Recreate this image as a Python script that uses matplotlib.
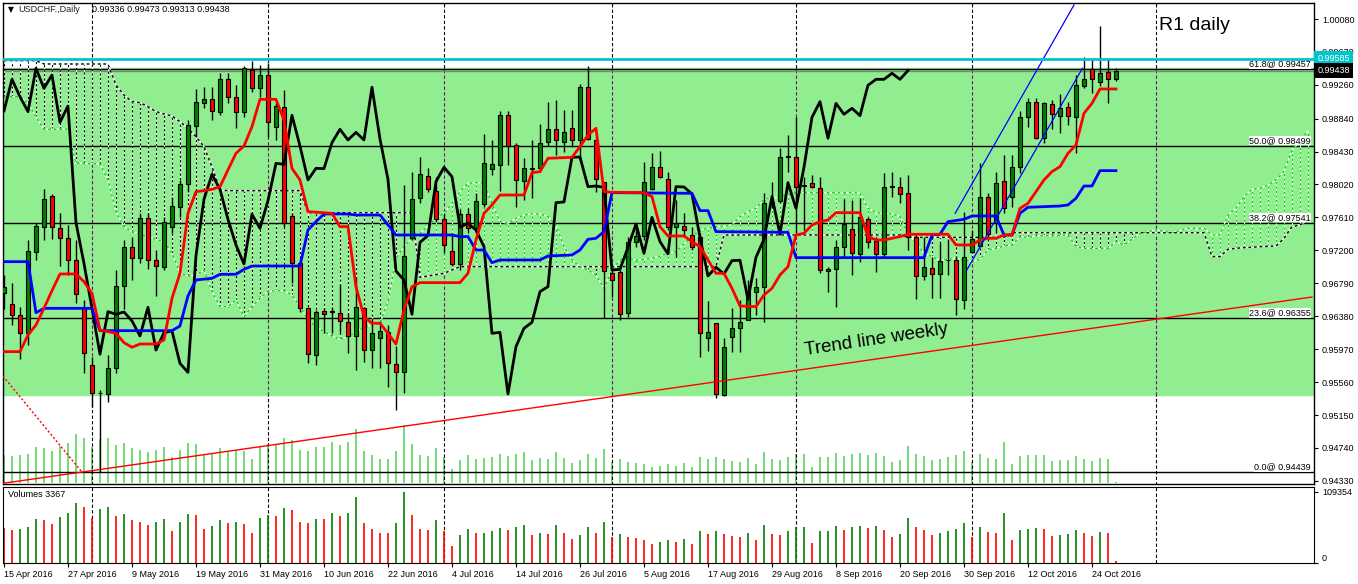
import numpy as np
import pandas as pd
import matplotlib
matplotlib.use("Agg")
import matplotlib.pyplot as plt
import matplotlib.transforms as mtransforms

plt.rcParams['font.family'] = ['Liberation Sans', 'DejaVu Sans']

# USDCHF daily candles, bar 0 = 15 Apr 2016
opens = [0.96665, 0.96528, 0.96391, 0.96167, 0.97175, 0.97487, 0.97877, 0.97474, 0.97350, 0.97080,
         0.96478, 0.95773, 0.95420, 0.95412, 0.95731, 0.96760, 0.97238, 0.97101, 0.97599, 0.97080,
         0.96989, 0.97487, 0.97736, 0.98022, 0.98748, 0.99030, 0.99080, 0.98927, 0.99329, 0.99105,
         0.98927, 0.99445, 0.99217, 0.99383, 0.98732, 0.98981, 0.97632, 0.97038, 0.96478, 0.95893,
         0.96449, 0.96441, 0.96424, 0.96312, 0.96134, 0.96478, 0.95959, 0.96105, 0.96188, 0.95785,
         0.95681, 0.97350, 0.97848, 0.98130, 0.97943, 0.97586, 0.97192, 0.97030, 0.97649, 0.97474,
         0.97777, 0.98209, 0.98259, 0.98881, 0.98508, 0.98064, 0.98225, 0.98230, 0.98549, 0.98715,
         0.98553, 0.98728, 0.98574, 0.99230, 0.98574, 0.98055, 0.96914, 0.96926, 0.96416, 0.97300,
         0.97383, 0.97960, 0.98234, 0.98084, 0.97487, 0.97507, 0.97391, 0.97362, 0.96105, 0.96300,
         0.95399, 0.96125, 0.96229, 0.96333, 0.96677, 0.96740, 0.97785, 0.97810, 0.98371, 0.98366,
         0.98010, 0.98034, 0.97972, 0.96947, 0.96964, 0.97238, 0.97462, 0.97155, 0.97586, 0.97317,
         0.97155, 0.97997, 0.97993, 0.97910, 0.97362, 0.96881, 0.96976, 0.96902, 0.97084, 0.97080,
         0.96582, 0.97184, 0.97258, 0.97869, 0.97545, 0.98068, 0.97869, 0.98242, 0.98864, 0.99043,
         0.98595, 0.99018, 0.98873, 0.98981, 0.98864, 0.99246, 0.99454, 0.99300, 0.99416, 0.99336]
highs = [0.96893, 0.96789, 0.96499, 0.97329, 0.97545, 0.97964, 0.97902, 0.97661, 0.97516, 0.97329,
         0.96582, 0.95876, 0.95461, 0.95897, 0.96955, 0.97329, 0.97370, 0.97661, 0.97661, 0.97204,
         0.97619, 0.97869, 0.98076, 0.98823, 0.99205, 0.99238, 0.99238, 0.99404, 0.99404, 0.99259,
         0.99495, 0.99562, 0.99508, 0.99537, 0.99030, 0.99196, 0.97661, 0.97080, 0.96499, 0.96457,
         0.96478, 0.96499, 0.96769, 0.96416, 0.96872, 0.96499, 0.96333, 0.96325, 0.96271, 0.96009,
         0.98014, 0.98180, 0.98366, 0.98221, 0.98117, 0.97661, 0.97412, 0.97711, 0.97723, 0.97910,
         0.98649, 0.98574, 0.98939, 0.98939, 0.98532, 0.98346, 0.98574, 0.98773, 0.99051, 0.99072,
         0.98947, 0.98947, 0.99271, 0.99495, 0.98582, 0.98055, 0.96955, 0.96955, 0.97370, 0.97536,
         0.98304, 0.98408, 0.98437, 0.98180, 0.97827, 0.97661, 0.97495, 0.97412, 0.96574, 0.96300,
         0.96105, 0.96478, 0.96582, 0.96831, 0.96852, 0.97918, 0.98055, 0.98470, 0.98636, 0.98864,
         0.98117, 0.98138, 0.98117, 0.96997, 0.97329, 0.97835, 0.97827, 0.97848, 0.97619, 0.97370,
         0.98167, 0.98180, 0.98117, 0.98138, 0.97412, 0.97362, 0.97121, 0.97296, 0.97329, 0.97121,
         0.97682, 0.97453, 0.98283, 0.97910, 0.98180, 0.98387, 0.98387, 0.98935, 0.99093, 0.99093,
         0.99051, 0.99072, 0.99147, 0.99051, 0.99383, 0.99611, 0.99570, 0.99993, 0.99578, 0.99473]
lows = [0.96466, 0.96267, 0.95843, 0.96022, 0.97080, 0.97329, 0.97341, 0.97005, 0.96893, 0.96540,
        0.95669, 0.95254, 0.94439, 0.95316, 0.95669, 0.96466, 0.96831, 0.97038, 0.96964, 0.96632,
        0.96955, 0.97412, 0.97619, 0.97931, 0.98615, 0.98968, 0.98823, 0.98885, 0.99030, 0.98719,
        0.98864, 0.99176, 0.99113, 0.98615, 0.98574, 0.97495, 0.96789, 0.96437, 0.95802, 0.95773,
        0.96167, 0.96167, 0.96167, 0.95918, 0.95710, 0.95814, 0.95731, 0.95731, 0.95503, 0.95212,
        0.95420, 0.97329, 0.97785, 0.97931, 0.97557, 0.97163, 0.97005, 0.96955, 0.97412, 0.97412,
        0.97744, 0.98138, 0.97943, 0.98263, 0.97744, 0.97827, 0.97848, 0.98180, 0.98499, 0.98387,
        0.98429, 0.98491, 0.98325, 0.98574, 0.97931, 0.96362, 0.96623, 0.96333, 0.96374, 0.97238,
        0.97329, 0.97951, 0.98097, 0.97453, 0.97121, 0.97370, 0.97204, 0.95876, 0.95951, 0.95358,
        0.95387, 0.95939, 0.95939, 0.96333, 0.96395, 0.96312, 0.97723, 0.97785, 0.98180, 0.97412,
        0.97453, 0.97972, 0.96914, 0.96686, 0.96499, 0.97101, 0.96893, 0.97059, 0.97225, 0.96935,
        0.97101, 0.97869, 0.97785, 0.97204, 0.96590, 0.96831, 0.96603, 0.96603, 0.96893, 0.96395,
        0.96466, 0.97163, 0.97246, 0.97350, 0.97412, 0.97669, 0.97744, 0.98159, 0.98732, 0.98582,
        0.98541, 0.98707, 0.98657, 0.98761, 0.98416, 0.99217, 0.99155, 0.99246, 0.99030, 0.99313]
closes = [0.96740, 0.96391, 0.96167, 0.97192, 0.97503, 0.97835, 0.97487, 0.97350, 0.97080, 0.96653,
          0.95918, 0.95420, 0.95428, 0.95731, 0.96760, 0.97238, 0.97101, 0.97599, 0.97080, 0.97009,
          0.97549, 0.97752, 0.98022, 0.98757, 0.99043, 0.99080, 0.98935, 0.99329, 0.99113, 0.98927,
          0.99466, 0.99217, 0.99383, 0.98794, 0.98997, 0.97545, 0.97038, 0.96478, 0.95906, 0.96437,
          0.96404, 0.96433, 0.96321, 0.96134, 0.96491, 0.95959, 0.96175, 0.96196, 0.95793, 0.95681,
          0.97134, 0.97835, 0.98147, 0.97960, 0.97586, 0.97267, 0.97030, 0.97649, 0.97474, 0.97819,
          0.98283, 0.98271, 0.98881, 0.98499, 0.98076, 0.98221, 0.98217, 0.98541, 0.98707, 0.98574,
          0.98669, 0.98574, 0.99230, 0.98586, 0.98084, 0.96943, 0.96831, 0.96404, 0.97300, 0.97383,
          0.98055, 0.98234, 0.98117, 0.97487, 0.97536, 0.97453, 0.97246, 0.96167, 0.96179, 0.95412,
          0.96001, 0.96229, 0.96304, 0.96686, 0.96748, 0.97794, 0.97802, 0.98358, 0.98362, 0.97993,
          0.98001, 0.97985, 0.96955, 0.96964, 0.97238, 0.97528, 0.97163, 0.97611, 0.97309, 0.97155,
          0.97993, 0.97989, 0.97902, 0.97362, 0.96881, 0.96989, 0.96906, 0.97072, 0.97076, 0.96590,
          0.97113, 0.97337, 0.97869, 0.97400, 0.98043, 0.97723, 0.98234, 0.98856, 0.99051, 0.98595,
          0.99030, 0.98894, 0.98968, 0.98877, 0.99255, 0.99329, 0.99329, 0.99404, 0.99329, 0.99438]
volumes = [53400, 50800, 52400, 55900, 67800, 66200, 60100, 70400, 76500, 91900,
           85800, 68800, 83200, 85800, 72400, 75500, 66200, 63100, 58500, 63100,
           67800, 49300, 63100, 75500, 73400, 52400, 57000, 66200, 61600, 63100,
           60100, 46200, 69300, 73900, 72400, 84200, 81600, 63100, 61600, 67800,
           67500, 77000, 72400, 77000, 101200, 61600, 52400, 46200, 46000, 61600,
           109354, 73900, 52400, 50800, 66200, 49800, 26200, 43400, 52800, 46500,
           46900, 49800, 54400, 51300, 55900, 59000, 43600, 46700, 45100, 59000,
           46700, 37400, 43600, 55900, 46700, 63600, 40000, 45100, 40500, 39000,
           35900, 29700, 32800, 35900, 32800, 37400, 29700, 49800, 45100, 49800,
           45100, 42000, 40500, 46700, 35900, 59000, 45100, 43600, 49800, 55400,
           55600, 30800, 49300, 49500, 57000, 50800, 55400, 57000, 53900, 57000,
           50800, 40000, 44700, 69300, 55400, 50800, 43100, 46200, 49300, 52400,
           61600, 40000, 55400, 47700, 46200, 77000, 35400, 50800, 52400, 53900,
           52400, 41600, 43100, 44700, 50800, 46200, 41600, 47700, 46200, 3367]

# Ichimoku lines (vertices: bar index, price)
tenkan_x = [0, 2, 3, 4, 5, 6, 7, 9, 10, 11, 12, 13, 14, 15, 16, 17, 19, 20, 21, 22, 23, 24, 25, 26, 27,
            28, 29, 30, 31, 32, 34, 35, 36, 37, 38, 41, 42, 43, 44, 45, 46, 47, 48, 49, 50, 51, 52, 57,
            58, 59, 60, 61, 62, 65, 66, 67, 68, 71, 72, 73, 74, 75, 76, 80, 81, 82, 83, 85, 86, 87, 88,
            89, 90, 91, 92, 94, 95, 96, 97, 98, 99, 100, 101, 102, 103, 104, 107, 108, 109, 110, 112,
            113, 118, 119, 121, 122, 123, 124, 125, 126, 127, 128, 129, 130, 131, 132, 133, 134, 135,
            136, 137, 139]
tenkan_y = [0.95939, 0.95939, 0.96146, 0.96271, 0.96478, 0.96698, 0.96906, 0.96906, 0.96810, 0.96665,
            0.96209, 0.96188, 0.96167, 0.96051, 0.95993, 0.96034, 0.96034, 0.96084, 0.96603, 0.96914,
            0.97661, 0.97931, 0.97943, 0.97960, 0.97993, 0.98201, 0.98408, 0.98499, 0.98740, 0.99080,
            0.99080, 0.98823, 0.98221, 0.98076, 0.97682, 0.97661, 0.97495, 0.97495, 0.96748, 0.96375,
            0.96292, 0.96292, 0.96167, 0.96034, 0.96458, 0.96748, 0.96798, 0.96798, 0.96914, 0.97329,
            0.97661, 0.97765, 0.97889, 0.97889, 0.98167, 0.98180, 0.98346, 0.98358, 0.98491, 0.98636,
            0.98719, 0.97931, 0.97923, 0.97918, 0.97869, 0.97495, 0.97379, 0.97379, 0.97308, 0.97246,
            0.97080, 0.96914, 0.96914, 0.96727, 0.96507, 0.96499, 0.96644, 0.96727, 0.96893, 0.96997,
            0.97391, 0.97412, 0.97516, 0.97557, 0.97578, 0.97669, 0.97669, 0.97371, 0.97329, 0.97329,
            0.97371, 0.97400, 0.97400, 0.97267, 0.97267, 0.97329, 0.97350, 0.97350, 0.97391, 0.97391,
            0.97723, 0.97785, 0.97931, 0.98076, 0.98180, 0.98242, 0.98408, 0.98512, 0.98906, 0.99030,
            0.99209, 0.99209]
kijun_x = [0, 3, 4, 5, 11, 12, 21, 22, 23, 24, 26, 27, 29, 30, 31, 37, 38, 39, 40, 43, 44, 47, 48, 49,
           56, 57, 58, 59, 60, 61, 62, 67, 68, 71, 72, 73, 74, 75, 76, 86, 87, 88, 89, 98, 99, 115,
           116, 117, 118, 120, 121, 124, 125, 126, 127, 128, 132, 133, 134, 135, 136, 137, 139]
kijun_y = [0.97059, 0.97059, 0.96424, 0.96478, 0.96478, 0.96200, 0.96200, 0.96258, 0.96632, 0.96831,
           0.96852, 0.96902, 0.96902, 0.96964, 0.97005, 0.97005, 0.97454, 0.97557, 0.97653, 0.97653,
           0.97640, 0.97640, 0.97516, 0.97391, 0.97391, 0.97371, 0.97371, 0.97204, 0.97204, 0.97047,
           0.97080, 0.97080, 0.97130, 0.97142, 0.97204, 0.97337, 0.97350, 0.97433, 0.97918, 0.97910,
           0.97694, 0.97694, 0.97433, 0.97424, 0.97109, 0.97109, 0.97391, 0.97400, 0.97557, 0.97586,
           0.97628, 0.97628, 0.97391, 0.97391, 0.97661, 0.97736, 0.97752, 0.97765, 0.97848, 0.98001,
           0.98001, 0.98192, 0.98192]
chikou_shift = 26

# cloud spans, one value per bar (bars 0..163, incl. the part projected ahead)
span_a = [0.99113, 0.99113, 0.99113, 0.99030, 0.98864, 0.98707, 0.98707, 0.98707, 0.98707, 0.98283,
          0.98283, 0.98279, 0.98275, 0.98076, 0.97682, 0.97495, 0.97433, 0.97400, 0.97371, 0.97337,
          0.97308, 0.97163, 0.96914, 0.96881, 0.96893, 0.96955, 0.96686, 0.96499, 0.96499, 0.96582,
          0.96375, 0.96499, 0.96603, 0.96686, 0.96698, 0.96698, 0.96644, 0.96499, 0.96333, 0.96250,
          0.96188, 0.96134, 0.96092, 0.96126, 0.96188, 0.96242, 0.96271, 0.96292, 0.96561, 0.97101,
          0.97246, 0.97350, 0.97412, 0.97503, 0.97599, 0.97661, 0.97785, 0.97931, 0.98035, 0.98043,
          0.98035, 0.97785, 0.97557, 0.97537, 0.97599, 0.97640, 0.97653, 0.97653, 0.97620, 0.97516,
          0.97246, 0.97080, 0.96997, 0.96955, 0.96893, 0.96727, 0.96955, 0.97080, 0.97101, 0.97080,
          0.97088, 0.97101, 0.97130, 0.97163, 0.97184, 0.97279, 0.97371, 0.97454, 0.97474, 0.97495,
          0.97503, 0.97516, 0.97620, 0.97682, 0.97723, 0.97835, 0.97852, 0.97869, 0.97893, 0.97918,
          0.97918, 0.97918, 0.97918, 0.97918, 0.97918, 0.97918, 0.97918,
          0.97910, 0.97723, 0.97669, 0.97661, 0.97653, 0.97620, 0.97412, 0.97288, 0.97163, 0.97122,
          0.97072, 0.97088, 0.97101, 0.97080, 0.97059, 0.97088, 0.97204, 0.97225, 0.97254, 0.97267,
          0.97371, 0.97362, 0.97379, 0.97383, 0.97383, 0.97387, 0.97391, 0.97246, 0.97225, 0.97225,
          0.97225, 0.97225, 0.97308, 0.97267, 0.97337, 0.97412, 0.97433, 0.97454, 0.97437, 0.97420,
          0.97445, 0.97474, 0.97474, 0.97474, 0.97391, 0.97391, 0.97640, 0.97723, 0.97869, 0.97960,
          0.97972, 0.98014, 0.98076, 0.98180, 0.98449, 0.98553, 0.98690]
span_b = ([0.99562] * 5 + [0.99520] * 9
          + [0.99259, 0.99134, 0.99051, 0.99039, 0.98989, 0.98927, 0.98898, 0.98873, 0.98802, 0.98719,
             0.98615, 0.98491, 0.98242, 0.97951]
          + [0.97943] * 10 + [0.97669] * 14
          + [0.96864, 0.96881, 0.96897, 0.96914, 0.96955]
          + [0.96997] * 33 + [0.97391] * 23 + [0.97362] * 13 + [0.97420] * 25
          + [0.97122, 0.97122, 0.97213, 0.97225, 0.97234, 0.97238, 0.97246, 0.97250, 0.97254, 0.97350,
             0.97495, 0.97516, 0.97578])

# drawn objects
fib_levels = [0.0, 23.6, 38.2, 50.0, 61.8]
fib_prices = [0.94439, 0.96355, 0.97541, 0.98499, 0.99457]
fib_trend_x = [-0.125, 9.75]
fib_trend_y = [0.95635, 0.94439]
resistance = 0.99585
zone_top = 0.99470
zone_bottom = 0.95399
weekly_x = [-0.125, 163.5]
weekly_y = [0.94300, 0.96619]
channel_upper_x = [118.9, 133.75]
channel_upper_y = [0.97661, 1.00254]
channel_lower_x = [120.3, 134.8]
channel_lower_y = [0.96946, 0.99466]
price_ticks = [1.00080, 0.99670, 0.99260, 0.98840, 0.98430, 0.98020, 0.97610, 0.97200,
               0.96790, 0.96380, 0.95970, 0.95560, 0.95150, 0.94740, 0.94330]

n = len(closes)
x = np.arange(n)
dates = pd.bdate_range("2016-04-15", periods=n)
future = pd.date_range(dates[-1] + pd.Timedelta(days=1), periods=len(span_a) - n + 5, freq="D")
all_dates = dates.append(future)
month_starts = [k for k in range(1, len(all_dates)) if all_dates[k].month != all_dates[k - 1].month]

W, H = 1358, 584


def rect(x0, y0, x1, y1):
    return [x0 / W, 1 - y1 / H, (x1 - x0) / W, (y1 - y0) / H]


fig = plt.figure(figsize=(W / 100, H / 100), dpi=100, facecolor="white")
axo = fig.add_axes(rect(2.7, 2.7, 1313.5, 484))
ax = fig.add_axes(rect(2.7, 2.7, 1313.5, 484), sharex=axo)
axv = fig.add_axes(rect(2.7, 487, 1313.5, 563), sharex=axo)
ax.set_facecolor("none")

ax.set_xlim(-0.16, 163.69)
ax.set_ylim(0.94291, 1.00283)

# volume histogram in the bottom of the price window
axo.vlines(x, 0, volumes, color="#5fd35f", lw=1.2)
axo.set_ylim(-1300, 902600)
axo.axis("off")

# zone and horizontal levels
ax.axhspan(zone_bottom, zone_top, color="#90ee90", zorder=0)
bt = mtransforms.blended_transform_factory(ax.transAxes, ax.transData)
for lvl, p in zip(fib_levels, fib_prices):
    ax.axhline(p, color="black", lw=1, zorder=1.5)
    ax.text(0.998, p + 0.00012, f"{lvl:.1f}@ {p:.5f}", transform=bt,
            ha="right", va="bottom", fontsize=6.5, zorder=6,
            bbox=dict(facecolor="white", edgecolor="none", pad=0.3))
ax.axhline(resistance, color="#00c5cd", lw=2, zorder=7)
ax.axhline(closes[-1], color="#808080", lw=1, zorder=1.4)

# month separators
for s in month_starts:
    ax.vlines(s, zone_top, 1.01, color="black", lw=0.8, linestyles=[(0, (3, 2))], zorder=1.2)
    ax.vlines(s, zone_bottom, zone_top, color="#6f116f", lw=0.8, linestyles=[(0, (3, 2))], zorder=1.2)
    ax.vlines(s, 0.93, zone_bottom, color="black", lw=0.8, linestyles=[(0, (3, 2))], zorder=1.2)
    axv.axvline(s, color="black", lw=0.8, ls=(0, (3, 2)), zorder=1)

# ichimoku cloud
xc = np.arange(len(span_a))
sa = np.array(span_a)
sb = np.array(span_b)
hatch_col = ["black" if b > a else "#00dd00" for a, b in zip(sa, sb)]
ax.vlines(xc, np.minimum(sa, sb), np.maximum(sa, sb), colors="white", lw=0.8, zorder=2)
ax.vlines(xc, np.minimum(sa, sb), np.maximum(sa, sb), colors=hatch_col, lw=0.8,
          linestyles=[(0, (2, 2))], zorder=2.1)
ax.plot(xc, sb, color="white", lw=1, zorder=2.2)
ax.plot(xc, sb, color="black", lw=1, ls=(0, (2, 2)), zorder=2.3)
ax.plot(xc, sa, color="white", lw=1, zorder=2.2)
ax.plot(xc, sa, color="#00dd00", lw=1, ls=(0, (2, 2)), zorder=2.3)

# candles
o = np.array(opens)
c = np.array(closes)
ax.vlines(x, lows, highs, color="black", lw=1, zorder=3)
body_col = ["#008000" if cc >= oo else "#ff0000" for oo, cc in zip(o, c)]
ax.bar(x, np.abs(c - o), bottom=np.minimum(o, c), width=0.62, color=body_col,
       edgecolor="black", linewidth=0.8, zorder=3.1)

# ichimoku lines
ax.plot(x[:n - chikou_shift], c[chikou_shift:], color="black", lw=2, zorder=4)
ax.plot(kijun_x, kijun_y, color="#0000ff", lw=2, zorder=4.1)
ax.plot(tenkan_x, tenkan_y, color="#ff0000", lw=2, zorder=4.2)

# trend lines
ax.plot(weekly_x, weekly_y, color="#ff0000", lw=1, zorder=4.3)
ax.plot(fib_trend_x, fib_trend_y, color="#ff0000", lw=1, ls=(0, (1.5, 1.5)), zorder=4.3)
ax.plot(channel_upper_x, channel_upper_y, color="#0000ff", lw=0.9, zorder=4.3)
ax.plot(channel_lower_x, channel_lower_y, color="#0000ff", lw=0.9, zorder=4.3)

ax.text(109.1, 0.96084, "Trend line weekly", fontsize=13.5, rotation=8.5,
        rotation_mode="anchor", ha="center", va="center", zorder=6)
ax.text(148.75, 1.00005, "R1 daily", fontsize=14, ha="center", va="center", zorder=6)

# price axis
ax.yaxis.tick_right()
ax.set_yticks(price_ticks)
ax.set_yticklabels([f"{t:.5f}" for t in price_ticks])
ax.tick_params(axis="y", direction="out", length=3, width=0.8, labelsize=6.5, pad=3)
ax.tick_params(axis="x", bottom=False, labelbottom=False)
ax.text(1.003, resistance, f"{resistance:.5f}", transform=bt, ha="left", va="center", color="white",
        fontsize=6.5, zorder=10, clip_on=False,
        bbox=dict(facecolor="#00c5cd", edgecolor="none", pad=2.4))
ax.text(1.003, closes[-1], f"{closes[-1]:.5f}", transform=bt, ha="left", va="center", color="white",
        fontsize=6.5, zorder=10, clip_on=False,
        bbox=dict(facecolor="black", edgecolor="none", pad=2.2))
for sp in ax.spines.values():
    sp.set_linewidth(1)

# volume panel
vol_col = ["#ff0000"] + ["#008000" if volumes[k] > volumes[k - 1] else "#ff0000" for k in range(1, n)]
axv.vlines(x, 0, volumes, colors=vol_col, lw=1.2, zorder=2)
axv.set_ylim(0, 117040)
axv.yaxis.tick_right()
axv.set_yticks([0, max(volumes)])
axv.set_yticklabels(["0", str(max(volumes))])
axv.get_yticklabels()[0].set_va("bottom")
axv.tick_params(axis="y", direction="out", length=3, width=0.8, labelsize=6.5, pad=3)
axv.text(0.004, 0.895, f"Volumes {volumes[-1]}", transform=axv.transAxes, fontsize=6.5, va="center")

tick_idx = list(range(0, n, 8))
axv.set_xticks(tick_idx)
axv.set_xticklabels([f"{dates[k].day} {dates[k]:%b %Y}" for k in tick_idx])
axv.tick_params(axis="x", direction="out", length=3, width=0.8, labelsize=6.5, pad=2)
for lbl in axv.get_xticklabels():
    lbl.set_ha("left")
axv.set_xlim(-0.16, 163.69)

# header
fig.text(8 / W, 1 - 10 / H, "\u25bc", fontsize=5.5, va="center", family="DejaVu Sans")
fig.text(18 / W, 1 - 10 / H, "USDCHF.,Daily", fontsize=6.5, va="center", color="#202020")
fig.text(92 / W, 1 - 10 / H, f"{opens[-1]:.5f} {highs[-1]:.5f} {lows[-1]:.5f} {closes[-1]:.5f}",
         fontsize=6.5, va="center")

fig.savefig("out.png", dpi=100, facecolor="white")
